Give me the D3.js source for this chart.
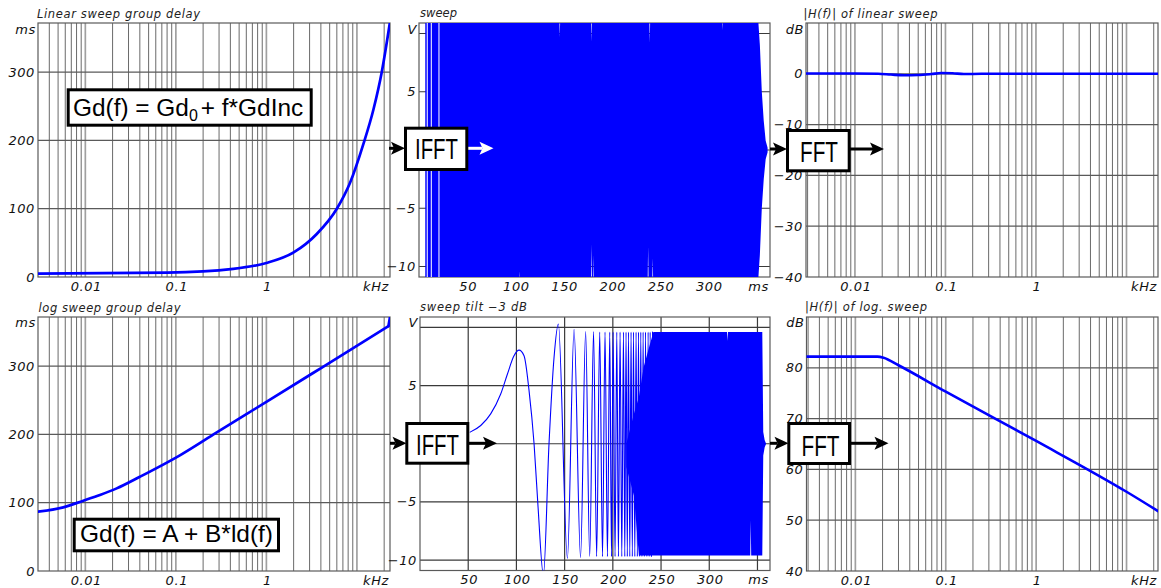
<!DOCTYPE html>
<html><head><meta charset="utf-8">
<script src="https://cdnjs.cloudflare.com/ajax/libs/d3/7.8.5/d3.min.js"></script>
<style>
html,body{margin:0;padding:0;background:#fff;}
svg{display:block;}
.tick{font-family:"DejaVu Sans",sans-serif;font-style:italic;font-size:13px;letter-spacing:0.6px;fill:#111;}
.title{font-family:"DejaVu Sans",sans-serif;font-style:italic;font-size:11.5px;fill:#222;}
.boxtxt{font-family:"Liberation Sans",Arial,sans-serif;fill:#000;}
.fft{font-family:"Liberation Sans Narrow","Liberation Sans",sans-serif;fill:#000;}
</style></head><body>
<svg id="c" width="1161" height="588"></svg>
<script>
// ---------------- data ----------------
const freqLabelValues = [0.01, 0.1, 1];
const freqLabels = ["0.01", "0.1", "1"];
const timeLabelValues = [50, 100, 150, 200, 250, 300];
const timeLabels = ["50", "100", "150", "200", "250", "300"];
const timeGridValues = [50, 100, 150, 200, 250, 300, 350];
const gdTickValues = [0, 100, 200, 300];
const gdTickLabels = ["0", "100", "200", "300"];
const gdGridValues = [100, 200, 300];
const voltTickValues = [-10, -5, 0, 5];
const voltTickLabels = ["\u221210", "\u22125", "0", "5"];
const voltGridValues = [-10, -5, 0, 5, 10];
const linDbTickValues = [-40, -30, -20, -10, 0];
const linDbTickLabels = ["\u221240", "\u221230", "\u221220", "\u221210", "0"];
const linDbGridValues = [-30, -20, -10, 0];
const logDbTickValues = [40, 50, 60, 70, 80];
const logDbTickLabels = ["40", "50", "60", "70", "80"];
const logDbGridValues = [50, 60, 70, 80];

// linear sweep group delay (kHz, ms)
const linGdFreq = [0.003, 0.08, 0.43, 1.0, 2.0, 3.6, 6.0, 8.4, 11.8, 15.2, 18.8, 23.1];
const linGdMs   = [5.0, 6.5, 12.0, 20.6, 36, 63, 100, 138, 195, 245, 300, 372];

// log sweep group delay (kHz, ms) and the jump at the right edge
const logGdFreq = [0.003, 0.0057, 0.0095, 0.0145, 0.0222, 0.040, 0.112, 0.283, 1.01, 4.1, 10.6, 22.3];
const logGdMs   = [86.8, 93.2, 103, 111.3, 121, 138, 169.8, 203, 248, 298, 332, 358.7];
const logGdEdgeFreq = [22.3, 23.2];
const logGdEdgeMs   = [358.7, 372];

// |H(f)| of linear sweep (kHz, dB)
const linMagFreq = [0.00288, 0.01, 0.018, 0.025, 0.035, 0.05, 0.07, 0.09, 0.12, 0.16, 0.25, 1, 10, 22.3];
const linMagDb   = [0.05, 0.05, 0.02, -0.15, -0.3, -0.25, -0.05, 0.15, 0.1, -0.05, 0, 0, 0, 0];

// |H(f)| of log sweep (kHz, dB)
const logMagFreq = [0.00288, 0.0175, 0.0205, 0.03, 0.1, 1, 10, 22.3];
const logMagDb   = [82.2, 82.2, 82.0, 80.5, 75.3, 65.6, 55.6, 51.8];

// linear sweep: dense block envelope (ms, V) with white notches
const linSweepT  = [6.5, 104.0, 104.4, 104.8, 145.5, 146.0, 146.5, 178.3, 178.8, 179.3, 180.6, 181.0, 181.4, 237.1, 237.6, 238.1, 238.8, 239.3, 239.8, 241.9, 242.4, 242.9, 314.5, 315.0, 315.5, 351.5, 353.5, 355.5, 357.5, 359.5, 361.5];
const linSweepHi = [11.5, 11.5, 11.5, 11.5, 11.5, 9.7, 11.5, 11.5, 9.3, 11.5, 11.5, 11.5, 11.5, 11.5, 11.5, 11.5, 11.5, 9.2, 11.5, 11.5, 11.5, 11.5, 11.5, 10.3, 11.5, 11.5, 9.0, 5.0, 2.5, 0.8, 0.2];
const linSweepLo = [-11.5, -11.5, -10.4, -11.5, -11.5, -11.5, -11.5, -11.5, -8.1, -11.5, -11.5, -9.0, -11.5, -11.5, -8.3, -11.5, -11.5, -11.5, -11.5, -11.5, -9.3, -11.5, -11.5, -11.5, -11.5, -11.5, -9.0, -5.0, -2.5, -0.8, -0.2];
const linSweepGapsT = [8.6, 12.8, 20.7];

// tilted log sweep: resolved oscillation (ms, V)
const tiltSweepT = [52, 63, 73.3, 83.7, 90.7, 97.5, 102.7, 107.9, 113.1, 118.3, 122.4, 128, 133.8, 139, 143.5,
  152.9, 159.8, 166.5, 171.8, 176, 180, 183.2, 186.4, 189.3, 191.9, 194.4, 196.8, 198.6, 200.3, 202.3, 204.1,
  205.8, 207.5, 209.3, 211, 212.4, 213.7, 215, 216.2, 217.6, 218.9, 220.2, 221.4, 222.8, 224.1, 225.4, 226.6,
  227.8, 229, 230.2, 231.4, 232.7, 233.9, 235.3, 236.6, 237.7, 238.7, 240, 241.2];
const tiltSweepV = [1.0, 1.57, 2.57, 4.28, 6.0, 7.57, 8.05, 7.57, 4.57, 0, -5.4, -11.3, 0, 7.4, 10.3,
  -9.86, 9.85, -9.8, 9.65, -9.7, 9.65, -9.7, 9.6, -9.7, 9.6, -9.7, 9.6, -9.7, 9.6, -9.7, 9.6,
  -9.7, 9.6, -9.7, 9.6, -9.7, 9.6, -9.7, 9.6, -9.7, 9.6, -9.7, 9.6, -9.7, 9.6, -9.7, 9.6,
  -9.7, 9.6, -9.7, 9.6, -9.7, 9.6, -9.7, 9.6, -9.7, 9.6, -9.7, 9.6];
// tilted log sweep: dense block envelope (ms, V)
const tiltBlockT  = [214, 222, 227, 232, 242, 318.4, 318.9, 319.4, 342.5, 343.0, 343.5, 355.0, 356.0, 357.5, 359.0];
const tiltBlockHi = [0.0, 2.6, 4.0, 6.6, 9.6, 9.6, 8.85, 9.6, 9.6, 9.6, 9.6, 9.6, 1.0, 0.3, 0.0];
const tiltBlockLo = [-2.0, -4.5, -9.6, -9.6, -9.6, -9.6, -9.6, -9.6, -9.6, -6.6, -9.6, -9.6, -1.0, -0.3, 0.0];

// ---------------- layout ----------------
const svg = d3.select("#c");
const defs = svg.append("defs");
const BLUE = "#0000ff";

function makePanel(id, box, xScale, yScale, o) {
  const {x0, x1, y0, y1} = box;
  const x = xScale.range([x0, x1]);
  const y = yScale.range([y1, y0]);
  const g = svg.append("g");
  defs.append("clipPath").attr("id", id).append("rect")
    .attr("x", x0).attr("y", y0).attr("width", x1 - x0).attr("height", y1 - y0);
  if (o.log) {
    const d = x.domain();
    x.ticks().filter(v => v > d[0] * 1.001 && v < d[1] * 0.999).forEach(v => {
      const lg = Math.log10(v);
      const dec = Math.abs(lg - Math.round(lg)) < 1e-6;
      g.append("line").attr("x1", x(v)).attr("x2", x(v)).attr("y1", y0).attr("y2", y1)
        .attr("stroke", dec ? "#a0a0a0" : "#6a6a6a").attr("stroke-width", dec ? 1.7 : 1);
    });
  } else {
    o.xGrid.forEach(v => {
      g.append("line").attr("x1", x(v)).attr("x2", x(v)).attr("y1", y0).attr("y2", y1)
        .attr("stroke", "#3a3a3a").attr("stroke-width", 1.2);
    });
  }
  o.yGrid.forEach(v => {
    g.append("line").attr("x1", x0).attr("x2", x1).attr("y1", y(v)).attr("y2", y(v))
      .attr("stroke", o.log ? "#5a5a5a" : "#3a3a3a").attr("stroke-width", 1.2);
  });
  g.append("rect").attr("x", x0).attr("y", y0).attr("width", x1 - x0).attr("height", y1 - y0)
    .attr("fill", "none").attr("stroke", "#5a5a5a").attr("stroke-width", 1.2);
  o.yTicks.forEach((v, i) => {
    g.append("text").attr("class", "tick").attr("x", x0 - 3).attr("y", y(v))
      .attr("text-anchor", "end").attr("dominant-baseline", "central").text(o.yLabels[i]);
  });
  g.append("text").attr("class", "tick").attr("x", x0 - 2).attr("y", y0 + o.unitDy)
    .attr("text-anchor", "end").text(o.yUnit);
  o.xTicks.forEach((v, i) => {
    g.append("text").attr("class", "tick").attr("x", x(v) + 1).attr("y", y1 + 13.5)
      .attr("text-anchor", "middle").text(o.xLabels[i]);
  });
  g.append("text").attr("class", "tick").attr("x", x1 - 1).attr("y", y1 + 13.5)
    .attr("text-anchor", "end").text(o.xUnit);
  g.append("text").attr("class", "title").attr("x", o.title.x).attr("y", o.title.y)
    .attr("textLength", o.title.len).attr("lengthAdjust", "spacing").text(o.title.text);
  const data = g.append("g").attr("clip-path", `url(#${id})`);
  return {g, data, x, y};
}

function drawCurve(p, xs, ys, w, curve) {
  const pts = xs.map((v, i) => [v, ys[i]]);
  p.data.append("path").datum(pts)
    .attr("d", d3.line().x(d => p.x(d[0])).y(d => p.y(d[1])).curve(curve || d3.curveMonotoneX))
    .attr("fill", "none").attr("stroke", BLUE).attr("stroke-width", w)
    .attr("stroke-linejoin", "round").attr("stroke-linecap", "round");
}
function drawBlock(p, ts, hi, lo) {
  const pts = ts.map((v, i) => [v, hi[i], lo[i]]);
  p.data.append("path").datum(pts)
    .attr("d", d3.area().x(d => p.x(d[0])).y1(d => p.y(d[1])).y0(d => p.y(d[2])))
    .attr("fill", BLUE).attr("stroke", "none");
}

const rowTop = {y0: 23, y1: 277}, rowBot = {y0: 317, y1: 571};

const pTL = makePanel("cTL", {x0: 38, x1: 390, ...rowTop}, d3.scaleLog().domain([0.003, 23.2]), d3.scaleLinear().domain([0, 372]), {
  log: true, yGrid: gdGridValues, yTicks: gdTickValues, yLabels: gdTickLabels, yUnit: "ms", unitDy: 10.5,
  xTicks: freqLabelValues, xLabels: freqLabels, xUnit: "kHz",
  title: {x: 37, y: 17.5, len: 163, text: "Linear sweep group delay"}});
drawCurve(pTL, linGdFreq, linGdMs, 2.7);

const pTM = makePanel("cTM", {x0: 419, x1: 770, ...rowTop}, d3.scaleLinear().domain([0, 364]), d3.scaleLinear().domain([-10.9, 10.9]), {
  log: false, xGrid: timeGridValues, yGrid: voltGridValues, yTicks: voltTickValues, yLabels: voltTickLabels, yUnit: "V", unitDy: 10.5,
  xTicks: timeLabelValues, xLabels: timeLabels, xUnit: "ms",
  title: {x: 420, y: 16.5, len: 37, text: "sweep"}});
drawBlock(pTM, linSweepT, linSweepHi, linSweepLo);
linSweepGapsT.forEach(t => {
  pTM.data.append("line").attr("x1", pTM.x(t)).attr("x2", pTM.x(t)).attr("y1", 23).attr("y2", 277)
    .attr("stroke", "#ffffff").attr("stroke-width", 1.2).attr("stroke-opacity", 0.85);
});

const pTR = makePanel("cTR", {x0: 806, x1: 1158, ...rowTop}, d3.scaleLog().domain([0.00288, 22.3]), d3.scaleLinear().domain([-40, 10]), {
  log: true, yGrid: linDbGridValues, yTicks: linDbTickValues, yLabels: linDbTickLabels, yUnit: "dB", unitDy: 10.5,
  xTicks: freqLabelValues, xLabels: freqLabels, xUnit: "kHz",
  title: {x: 803.5, y: 17.5, len: 134, text: "|H(f)| of linear sweep"}});
drawCurve(pTR, linMagFreq, linMagDb, 2.6);

const pBL = makePanel("cBL", {x0: 38, x1: 390, ...rowBot}, d3.scaleLog().domain([0.003, 23.2]), d3.scaleLinear().domain([0, 372]), {
  log: true, yGrid: gdGridValues, yTicks: gdTickValues, yLabels: gdTickLabels, yUnit: "ms", unitDy: 10,
  xTicks: freqLabelValues, xLabels: freqLabels, xUnit: "kHz",
  title: {x: 38.5, y: 311.5, len: 142, text: "log sweep group delay"}});
drawCurve(pBL, logGdFreq, logGdMs, 2.7);
drawCurve(pBL, logGdEdgeFreq, logGdEdgeMs, 2.7, d3.curveLinear);

const pBM = makePanel("cBM", {x0: 420, x1: 770, y0: 317, y1: 570.5}, d3.scaleLinear().domain([0, 363]), d3.scaleLinear().domain([-10.9, 10.9]), {
  log: false, xGrid: timeGridValues, yGrid: voltGridValues, yTicks: voltTickValues, yLabels: voltTickLabels, yUnit: "V", unitDy: 10,
  xTicks: timeLabelValues, xLabels: timeLabels, xUnit: "ms",
  title: {x: 420, y: 310.5, len: 107, text: "sweep tilt \u22123 dB"}});
drawBlock(pBM, tiltBlockT, tiltBlockHi, tiltBlockLo);
drawCurve(pBM, tiltSweepT, tiltSweepV, 1.1);

const pBR = makePanel("cBR", {x0: 806.5, x1: 1158, ...rowBot}, d3.scaleLog().domain([0.00288, 22.3]), d3.scaleLinear().domain([40, 90]), {
  log: true, yGrid: logDbGridValues, yTicks: logDbTickValues, yLabels: logDbTickLabels, yUnit: "dB", unitDy: 10,
  xTicks: freqLabelValues, xLabels: freqLabels, xUnit: "kHz",
  title: {x: 805, y: 311, len: 122, text: "|H(f)| of log. sweep"}});
drawCurve(pBR, logMagFreq, logMagDb, 2.6);

// ---------------- annotations ----------------
const ann = svg.append("g");
function arrow(xa, xb, y, color) {
  const hl = 14, hh = 6.5;
  ann.append("line").attr("x1", xa).attr("x2", xb - hl + 3).attr("y1", y).attr("y2", y)
    .attr("stroke", color).attr("stroke-width", 3);
  ann.append("path").attr("d", `M${xb - hl},${y - hh}L${xb},${y}L${xb - hl},${y + hh}L${xb - hl + 3},${y}Z`)
    .attr("fill", color);
}
function box(x, y, w, h) {
  ann.append("rect").attr("x", x).attr("y", y).attr("width", w).attr("height", h)
    .attr("fill", "#fff").attr("stroke", "#000").attr("stroke-width", 3);
}
function label(cls, x, y, size, len, txt) {
  ann.append("text").attr("class", cls).attr("x", x).attr("y", y).attr("font-size", size)
    .attr("textLength", len).attr("lengthAdjust", "spacingAndGlyphs").text(txt);
}

arrow(389, 405, 148.3, "#000");
arrow(467.5, 493.5, 148.3, "#fff");
arrow(770, 787, 149, "#000");
arrow(850, 884, 149, "#000");
arrow(390, 406.5, 443.3, "#000");
arrow(469, 497, 443.3, "#000");
arrow(770, 788.5, 443.3, "#000");
arrow(851, 888.5, 443.3, "#000");

box(405.5, 128.2, 61.3, 41.3); label("fft", 415, 159.3, 29, 43, "IFFT");
box(406.8, 423.5, 61, 39.7);   label("fft", 416, 455, 29, 43, "IFFT");
box(787.5, 130.5, 61.7, 40.3); label("fft", 800, 161.5, 29, 38, "FFT");
box(788.8, 423.5, 60.7, 40);   label("fft", 801.5, 455.5, 29, 38, "FFT");

// formula boxes (single text elements with a subscript tspan)
box(68.2, 89.8, 243, 35.4);
const f1 = ann.append("text").attr("class", "boxtxt").attr("x", 73).attr("y", 115.5).attr("font-size", 24.4);
f1.append("tspan").text("Gd(f) = Gd");
f1.append("tspan").attr("font-size", 16).attr("dy", 5).text("0");
f1.append("tspan").attr("dy", -5).attr("dx", 3).text("+ f*GdInc");

box(74.2, 519.2, 204.3, 31.6);
label("boxtxt", 80, 542, 24, 193, "Gd(f) = A + B*ld(f)");
</script></body></html>
